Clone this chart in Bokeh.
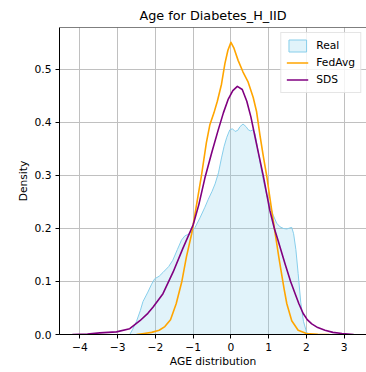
from bokeh.plotting import figure
from bokeh.models import Range1d, FixedTicker, CustomJSTickFormatter, Legend, LegendItem, Span
from bokeh.embed import file_html
from bokeh.resources import INLINE

# ---- data ----
real_x = [-2.68, -2.6, -2.5, -2.4, -2.33, -2.2, -2.1, -2.02, -1.9, -1.8, -1.65, -1.54, -1.42,
          -1.31, -1.22, -1.1, -1.0, -0.95, -0.82, -0.69, -0.6, -0.5, -0.42, -0.33, -0.25, -0.18,
          -0.11, -0.03, 0.04, 0.11, 0.18, 0.24, 0.32, 0.4, 0.46, 0.52, 0.59, 0.64, 0.68, 0.77,
          0.86, 0.95, 1.05, 1.12, 1.21, 1.3, 1.39, 1.48, 1.56, 1.61, 1.66, 1.72, 1.78, 1.85,
          1.92, 2.0, 2.05]
real_y = [0.0, 0.01, 0.025, 0.045, 0.062, 0.08, 0.095, 0.105, 0.11, 0.117, 0.128, 0.14, 0.16,
          0.178, 0.186, 0.19, 0.197, 0.202, 0.22, 0.24, 0.255, 0.27, 0.284, 0.305, 0.333, 0.355,
          0.372, 0.386, 0.388, 0.383, 0.385, 0.392, 0.397, 0.392, 0.386, 0.384, 0.386, 0.378,
          0.362, 0.325, 0.29, 0.262, 0.24, 0.225, 0.21, 0.203, 0.2, 0.199, 0.201, 0.202, 0.19,
          0.16, 0.115, 0.06, 0.025, 0.005, 0.0]

fedavg_x = [-2.5, -2.3, -2.1, -1.9, -1.75, -1.6, -1.45, -1.3, -1.18, -1.04, -0.95, -0.78, -0.65,
            -0.56, -0.45, -0.36, -0.25, -0.16, -0.08, 0.0, 0.08, 0.19, 0.32, 0.45, 0.59, 0.68,
            0.77, 0.86, 0.95, 1.08, 1.19, 1.27, 1.34, 1.41, 1.48, 1.61, 1.78, 2.0, 2.3, 2.6]
fedavg_y = [0.0, 0.002, 0.004, 0.008, 0.015, 0.028, 0.058, 0.1, 0.146, 0.19, 0.228, 0.3, 0.362,
            0.395, 0.418, 0.44, 0.472, 0.511, 0.536, 0.551, 0.54, 0.517, 0.495, 0.477, 0.447, 0.42,
            0.375, 0.335, 0.298, 0.234, 0.182, 0.145, 0.115, 0.085, 0.058, 0.026, 0.008, 0.002,
            0.0005, 0.0]

sds_x = [-4.2, -3.8, -3.47, -3.03, -2.68, -2.41, -2.2, -2.06, -1.8, -1.53, -1.27, -1.0, -0.85,
         -0.69, -0.5, -0.34, -0.2, -0.07, 0.05, 0.17, 0.3, 0.42, 0.53, 0.64, 0.75, 0.86, 1.03,
         1.15, 1.25, 1.43, 1.58, 1.7, 1.8, 1.91, 2.02, 2.14, 2.3, 2.49, 2.7, 2.94, 3.25]
sds_y = [0.0, 0.001, 0.003, 0.005, 0.011, 0.026, 0.04, 0.052, 0.077, 0.118, 0.163, 0.207, 0.245,
         0.295, 0.345, 0.385, 0.418, 0.444, 0.46, 0.468, 0.462, 0.44, 0.41, 0.372, 0.335, 0.298,
         0.234, 0.2, 0.177, 0.134, 0.1, 0.077, 0.058, 0.04, 0.028, 0.02, 0.013, 0.008, 0.004,
         0.002, 0.0]

x_ticks = [-4, -3, -2, -1, 0, 1, 2, 3]
y_ticks = [0.0, 0.1, 0.2, 0.3, 0.4, 0.5]

FONT = "DejaVu Sans"
Y_END = 0.579

p = figure(width=366, height=372, output_backend="svg", toolbar_location=None,
           x_range=Range1d(-4.54, 3.59), y_range=Range1d(0, Y_END),
           min_border_left=59, min_border_right=0, min_border_top=27, min_border_bottom=38,
           title="Age for Diabetes_H_IID")
p.outline_line_color = None
p.background_fill_color = "white"
p.border_fill_color = "white"

p.title.text_font = FONT
p.title.text_font_size = "12.8px"
p.title.text_font_style = "normal"
p.title.text_color = "black"
p.title.align = "center"

for ax in (p.xaxis[0], p.yaxis[0]):
    ax.axis_line_color = "black"
    ax.major_tick_line_color = "black"
    ax.major_tick_out = 4
    ax.major_tick_in = 0
    ax.minor_tick_line_color = None
    ax.major_label_text_font = FONT
    ax.major_label_text_font_size = "10.7px"
    ax.major_label_text_color = "black"
    ax.axis_label_text_font = FONT
    ax.axis_label_text_font_size = "10.7px"
    ax.axis_label_text_font_style = "normal"
    ax.axis_label_text_color = "black"

p.xaxis.ticker = FixedTicker(ticks=x_ticks)
p.yaxis.ticker = FixedTicker(ticks=y_ticks)
p.xaxis.formatter = CustomJSTickFormatter(code="return tick.toString().replace('-', '\u2212');")
p.yaxis.formatter = CustomJSTickFormatter(code="return tick.toFixed(1);")
p.xaxis.axis_label = "AGE distribution"
p.yaxis.axis_label = "Density"
p.xaxis.axis_label_standoff = 1
p.yaxis.axis_label_standoff = 2
p.xaxis.major_label_standoff = 4
p.yaxis.major_label_standoff = 4

p.xgrid.grid_line_color = "#c0c0c0"
p.ygrid.grid_line_color = "#c0c0c0"
p.xgrid.grid_line_width = 1
p.ygrid.grid_line_width = 1

top_spine = Span(location=Y_END, dimension="width", line_color="black", line_width=1)
p.add_layout(top_spine)

r_real = p.patch(real_x, real_y, fill_color="skyblue", fill_alpha=0.25,
                 line_color="skyblue", line_width=1)
r_fed = p.line(fedavg_x, fedavg_y, line_color="orange", line_width=1.6, line_join="round")
r_sds = p.line(sds_x, sds_y, line_color="purple", line_width=1.6, line_join="round")

legend = Legend(items=[LegendItem(label="Real", renderers=[r_real]),
                       LegendItem(label="FedAvg", renderers=[r_fed]),
                       LegendItem(label="SDS", renderers=[r_sds])],
                location="top_right")
legend.margin = 5
legend.padding = 5
legend.spacing = 2
legend.glyph_width = 22
legend.glyph_height = 15
legend.label_height = 15
legend.label_standoff = 8
legend.label_text_font = FONT
legend.label_text_font_size = "10.7px"
legend.label_text_color = "black"
legend.border_line_color = "#cccccc"
legend.border_line_width = 1
legend.background_fill_alpha = 0.8
p.add_layout(legend)

open("out.html", "w").write(file_html(p, INLINE))
